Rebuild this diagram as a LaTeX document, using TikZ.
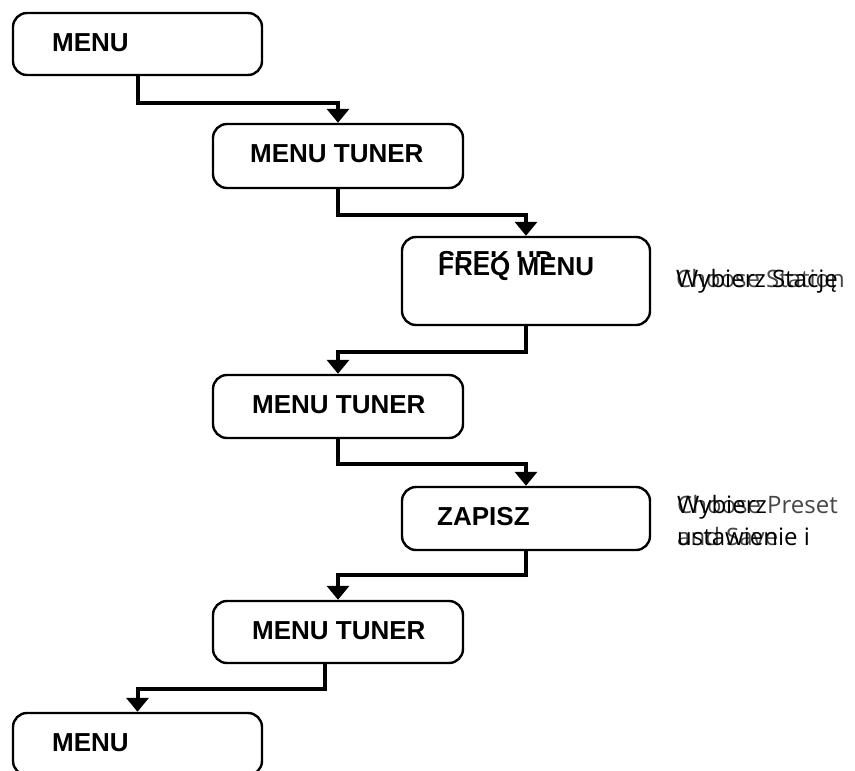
\documentclass[tikz,border=0pt]{standalone}
\usepackage{fontspec}
\setmainfont{Liberation Sans}
\newfontfamily\notefont{Open Sans}
\usetikzlibrary{arrows.meta}
\tikzset{
  box/.style={draw, line width=2.4pt, rounded corners=14pt, inner sep=0pt},
  conn/.style={line width=4pt, -{Triangle[width=22pt,length=14pt]}},
  lbl/.style={anchor=base west, inner sep=0pt, font=\fontsize{26}{30}\selectfont\bfseries},
  note/.style={anchor=base west, inner sep=0pt, font=\fontsize{24}{32}\selectfont\notefont},
  noteen/.style={note, text=black!72},
}
\begin{document}
\begin{tikzpicture}[x=1pt,y=-1pt]
\clip (0,0) rectangle (855,771);
\useasboundingbox (0,0) rectangle (855,771);
% boxes
\node[box, minimum width=249pt, minimum height=62pt] (b1) at (137.5,44) {};
\node[box, minimum width=250pt, minimum height=64pt] (b2) at (338,156) {};
\node[box, minimum width=248pt, minimum height=88pt] (b3) at (526,281) {};
\node[box, minimum width=250pt, minimum height=63pt] (b4) at (338,406.5) {};
\node[box, minimum width=248pt, minimum height=63pt] (b5) at (526,518.5) {};
\node[box, minimum width=250pt, minimum height=62pt] (b6) at (338,632) {};
\node[box, minimum width=249pt, minimum height=62pt] (b7) at (137.5,744) {};
% labels
\node[lbl] (t1) at (52,51) {MENU};
\node[lbl] (t2) at (250,162.5) {MENU TUNER};
\node[lbl] (t3a) at (438,269) {SEEK UP};
\node[lbl, fill=white] (t3b) at (438,275) {FREQ MENU};
\node[lbl] (t4) at (252,413.5) {MENU TUNER};
\node[lbl] (t5) at (437,525) {ZAPISZ};
\node[lbl] (t6) at (252,639.5) {MENU TUNER};
\node[lbl] (t7) at (52,751.5) {MENU};
% side notes
\node[noteen] (n3en) at (676,287) {Choose Station};
\node[note] (n3pl) at (676,287) {Wybierz Stację};
\node[noteen] (n5en) at (677,513) {Choose Preset};
\node[noteen] (n5en2) at (677,545) {and Save};
\node[note] (n5pl) at (677,513) {Wybierz};
\node[note] (n5pl2) at (677,545) {ustawienie i};
% connectors
\draw[conn] (b1.south) -- ++(0,27) -| (b2.north);
\draw[conn] (b2.south) -- ++(0,26) -| (b3.north);
\draw[conn] (b3.south) -- ++(0,26) -| (b4.north);
\draw[conn] (b4.south) -- ++(0,25) -| (b5.north);
\draw[conn] (b5.south) -- ++(0,24) -| (b6.north);
\draw[conn] ([xshift=-13pt]b6.south) -- ++(0,25) -| (b7.north);
\end{tikzpicture}
\end{document}
